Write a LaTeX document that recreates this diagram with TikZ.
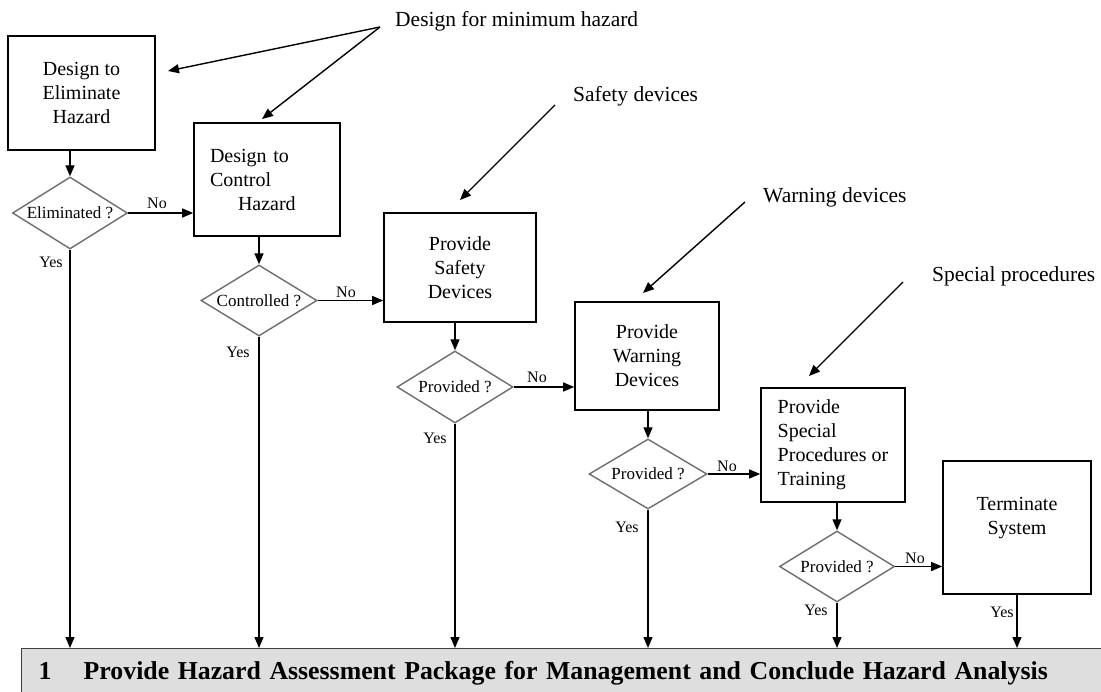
\documentclass[tikz,border=0pt]{standalone}
\usepackage{fontspec}
\setmainfont{Liberation Serif}
\usetikzlibrary{shapes.geometric,arrows.meta}
\definecolor{diagray}{HTML}{6E6E6E}
\definecolor{barfill}{HTML}{DEDEDE}
\definecolor{barline}{HTML}{404040}
\tikzset{
  box/.style={draw, line width=1.6pt, inner sep=0pt, align=center, font=\fontsize{20}{24}\selectfont},
  dia/.style={diamond, aspect=1.62, draw=diagray, line width=1.4pt, inner sep=0pt, font=\fontsize{17}{20}\selectfont},
  lab/.style={inner sep=0pt, font=\fontsize{16}{18}\selectfont},
  ann/.style={inner sep=0pt, anchor=west, font=\fontsize{21.5}{24}\selectfont},
  arr/.style={-{Triangle[length=11pt,width=9pt]}, line width=1.4pt},
  bar/.style={draw=barline, fill=barfill, line width=1.4pt, inner ysep=0pt, inner xsep=17pt, align=left, font=\fontsize{25.8}{30}\selectfont\bfseries}
}
\begin{document}
\begin{tikzpicture}[x=1pt,y=-1pt]
\useasboundingbox (0,0) rectangle (1101,692);
\fill[white] (0,0) rectangle (1101,692);

% boxes
\node[box, minimum width=147pt, minimum height=114pt] (b1) at (81.5,93) {Design to\\Eliminate\\Hazard};
\node[box, minimum width=146pt, minimum height=113pt, text width=114pt, align=left] (b2) at (267,179.5) {Design to\\Control\\\hspace*{28pt}Hazard};
\node[box, minimum width=152pt, minimum height=109pt] (b3) at (460,267.5) {Provide\\Safety\\Devices};
\node[box, minimum width=144pt, minimum height=108pt] (b4) at (647,356) {Provide\\Warning\\Devices};
\node[box, minimum width=144pt, minimum height=114pt, align=left] (b5) at (833,445) {Provide\\Special\\Procedures or\\Training};
\node[box, minimum width=148pt, minimum height=133pt] (b6) at (1017,527.5) {Terminate\\System\\~};

% decisions
\node[dia, minimum width=115pt, minimum height=72pt] (d1) at (70,213) {Eliminated ?};
\node[dia, minimum width=116pt, minimum height=71pt] (d2) at (259,300.5) {Controlled ?};
\node[dia, minimum width=116pt, minimum height=72pt] (d3) at (455,387) {Provided ?};
\node[dia, minimum width=118pt, minimum height=70pt] (d4) at (648,474) {Provided ?};
\node[dia, minimum width=115pt, minimum height=71pt] (d5) at (837,566.5) {Provided ?};

% bottom bar
\node[bar, anchor=north west, minimum width=1090pt, minimum height=50pt, text width=1056pt] (bar) at (21,648)
  {\makebox[45pt][l]{1}Provide Hazard Assessment Package for Management and Conclude Hazard Analysis};

% flow connectors
\draw[arr] (d1.north |- b1.south) -- (d1.north);
\draw[arr] (d2.north |- b2.south) -- (d2.north);
\draw[arr] (d3.north |- b3.south) -- (d3.north);
\draw[arr] (d4.north |- b4.south) -- (d4.north);
\draw[arr] (d5.north |- b5.south) -- (d5.north);

\draw[arr] (d1.east) -- (d1.east -| b2.west);
\draw[arr] (d2.east) -- (d2.east -| b3.west);
\draw[arr] (d3.east) -- (d3.east -| b4.west);
\draw[arr] (d4.east) -- (d4.east -| b5.west);
\draw[arr] (d5.east) -- (d5.east -| b6.west);

\draw[arr] (d1.south) -- (d1.south |- bar.north);
\draw[arr] (d2.south) -- (d2.south |- bar.north);
\draw[arr] (d3.south) -- (d3.south |- bar.north);
\draw[arr] (d4.south) -- (d4.south |- bar.north);
\draw[arr] (d5.south) -- (d5.south |- bar.north);
\draw[arr] (b6.south) -- (b6.south |- bar.north);

% yes / no labels
\node[lab] (no1) at (157,203) {No};
\node[lab] (no2) at (346,292) {No};
\node[lab] (no3) at (537,377) {No};
\node[lab] (no4) at (727,466) {No};
\node[lab] (no5) at (915,558) {No};
\node[lab] (yes1) at (51,262) {Yes};
\node[lab] (yes2) at (238,352) {Yes};
\node[lab] (yes3) at (435,438) {Yes};
\node[lab] (yes4) at (627,527) {Yes};
\node[lab] (yes5) at (816,610) {Yes};
\node[lab] (yes6) at (1002,612) {Yes};

% annotations
\node[ann] (an1) at (395,21) {Design for minimum hazard};
\node[ann] (an2) at (573,96) {Safety devices};
\node[ann] (an3) at (763,197) {Warning devices};
\node[ann] (an4) at (932,276) {Special procedures};

\coordinate (s1) at (380,27);
\coordinate (t1a) at (168,71);
\coordinate (t1b) at (262,119);
\coordinate (s2) at (555,105);
\coordinate (t2) at (460,200);
\coordinate (s3) at (745,202);
\coordinate (t3) at (643,293);
\coordinate (s4) at (903,282);
\coordinate (t4) at (809,376);

\draw[arr] (s1) -- (t1a);
\draw[arr] (s1) -- (t1b);
\draw[arr] (s2) -- (t2);
\draw[arr] (s3) -- (t3);
\draw[arr] (s4) -- (t4);
\end{tikzpicture}
\end{document}
